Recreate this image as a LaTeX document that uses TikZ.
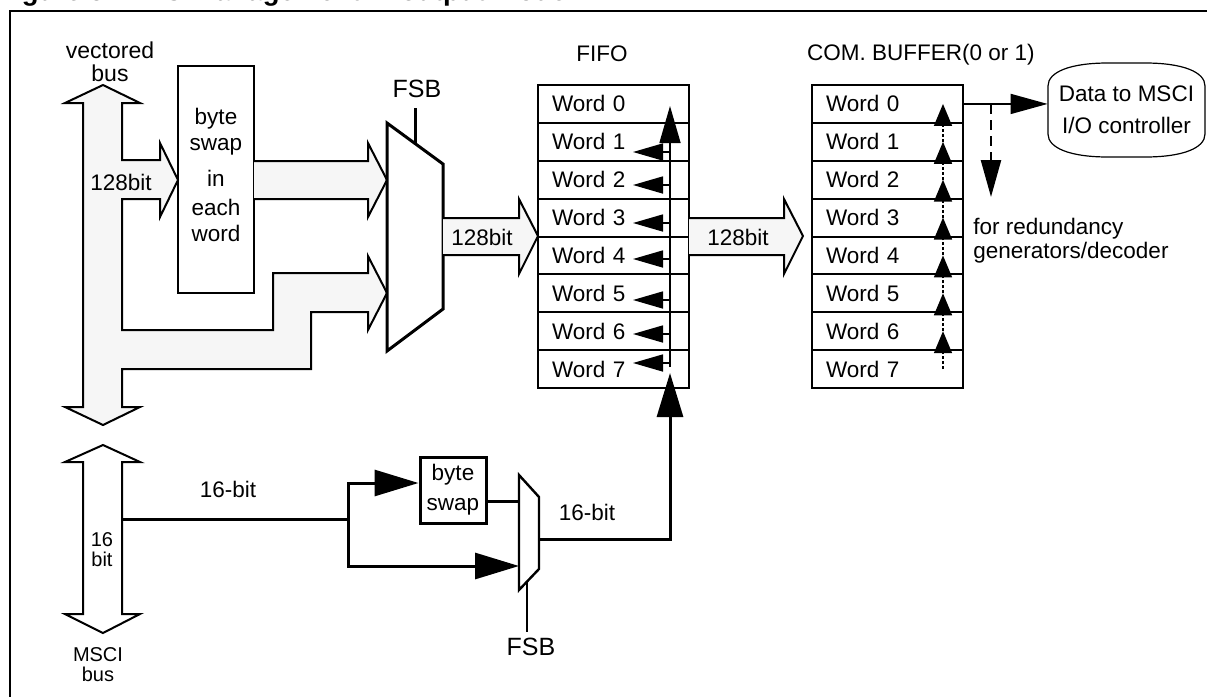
\documentclass[tikz,border=0pt]{standalone}
\usepackage{fontspec}
\setmainfont{Liberation Sans}
\usetikzlibrary{arrows.meta}

\newcommand\diafont{\fontsize{11.25}{13}\selectfont}
\newcommand\fsbfont{\fontsize{12.5}{14}\selectfont}
\newcommand\busfont{\fontsize{10}{10}\selectfont}

\tikzstyle{wordcell} = [draw, line width=1pt, minimum width=75.5pt, minimum height=18.94pt, inner xsep=7pt, inner ysep=0pt, text width=61.5pt, align=left, font=\diafont]
\tikzstyle{fat} = [draw, line width=1pt, fill=gray!7, line join=miter]
\tikzstyle{lbl} = [inner sep=0pt, font=\diafont]
\tikzstyle{thickline} = [line width=1.5pt]
\tikzstyle{bigtip} = [-{Triangle[length=22pt,width=13pt]}]
\tikzstyle{comtip} = [-{Triangle[length=11pt,width=9pt]}]

\begin{document}
\begin{tikzpicture}[x=0.5pt,y=-0.5pt]
\useasboundingbox (0,0) rectangle (1207,697);
\clip (0,0) rectangle (1207,697);
% title, cut by the top of the page
\node[anchor=base west, inner sep=0pt, font=\fontsize{13.75}{15}\selectfont\bfseries] (title) at (-3,0) {Figure 5. FIFO Management in output mode};
\draw[line width=1pt] (10,720) -- (10,11) -- (1230,11);

% vectored bus with its branches
\draw[fat] (103,85) -- (140,103) -- (122,103) -- (122,160) -- (160,160) -- (160,143) -- (178,180) -- (160,217) -- (160,199) -- (122,199) -- (122,330) -- (273,330) -- (273,273) -- (368,273) -- (368,256) -- (387,293) -- (368,330) -- (368,312) -- (311,312) -- (311,369) -- (122,369) -- (122,407) -- (140,407) -- (103,425) -- (65,407) -- (83,407) -- (83,103) -- (65,103) -- cycle;
\node[lbl, font=\fontsize{11.5}{11.5}\selectfont, align=center] (vbus) at (110,62) {vectored\\bus};
\node[lbl] (w128v) at (121,182) {128bit};

\node[draw, line width=1pt, minimum width=38pt, minimum height=113.5pt, align=center, text depth=5pt, font=\diafont] (swap) at (216,179.5) {byte\\swap\\[5pt]in\\[1.5pt]each\\word};
\draw[fat] (254,161) -- (368,161) -- (368,143) -- (387,180) -- (368,217) -- (368,199) -- (254,199);

% multiplexer FSB
\draw[line width=1.5pt, fill=white, line join=miter] (387,123) -- (443,164) -- (443,309) -- (387,351) -- cycle;
\draw[line width=1.5pt] (415,108) -- (415,144);
\node[lbl, font=\fsbfont] (fsbtop) at (417,89) {FSB};
\draw[fat] (443,218) -- (519,218) -- (519,199) -- (538,236) -- (519,274) -- (519,255) -- (443,255);
\node[lbl] (w128a) at (482,237) {128bit};

% FIFO
\node[lbl] (fifolbl) at (602,54) {FIFO};
\foreach \i in {0,...,7}
  \node[wordcell] (fifo\i) at (613.5,{103.94+37.875*\i}) {Word \i};
\draw[line width=0.8pt, -{Triangle[length=18.5pt,width=10.5pt]}] (670,367) -- (670,106);
\foreach \y in {152,185,223,259,300,334,363}
  \draw[line width=0.8pt, -{Triangle[length=15pt,width=8.5pt]}] (670,\y) -- (633,\y);

\draw[fat] (689,218) -- (784,218) -- (784,199) -- (803,236) -- (784,274) -- (784,255) -- (689,255);
\node[lbl] (w128b) at (738,237) {128bit};

% COM buffer
\node[lbl] (comlbl) at (921,55) {COM. BUFFER(0 or 1)};
\foreach \i in {0,...,7}
  \node[wordcell] (com\i) at (887.5,{103.94+37.875*\i}) {Word \i};
\foreach \i in {0,...,6}
  \draw[line width=0.8pt, dash pattern=on 1.5pt off 1pt, comtip] (943,{103.94+37.875*(\i+1)}) -- (943,{103.94+37.875*\i});

\node[minimum width=78.5pt, minimum height=47pt, align=center, font=\fontsize{11.25}{16}\selectfont] (data) at (1126.5,110) {Data to MSCI\\I/O controller};
\draw[line width=0.6pt] (1048,86) .. controls (1048,72) and (1070,63) .. (1108,63) -- (1145,63) .. controls (1183,63) and (1205,72) .. (1205,86) -- (1205,134) .. controls (1205,148) and (1183,157) .. (1145,157) -- (1108,157) .. controls (1070,157) and (1048,148) .. (1048,134) -- cycle;
\draw[line width=0.8pt, -{Triangle[length=18.5pt,width=10pt]}] (com0.east) -- (com0.east -| data.west);
\coordinate (tap) at (991,104);
\draw[line width=1.2pt, dash pattern=on 5pt off 3pt, -{Triangle[length=18.5pt,width=10pt]}] (tap) -- (991,197);
\node[lbl, anchor=north west, align=left, font=\fontsize{11.25}{12}\selectfont] (redun) at (973,218) {for redundancy\\generators/decoder};

% MSCI bus
\draw[line width=1pt, fill=white, line join=miter] (103,445) -- (140,462) -- (122,462) -- (122,614) -- (140,614) -- (103,633) -- (65,614) -- (83,614) -- (83,462) -- (65,462) -- cycle;
\node[lbl, font=\busfont, align=center] (w16) at (102,550) {16\\bit};
\node[lbl, font=\busfont, align=center] (msci) at (98,665) {MSCI\\bus};

\coordinate (split) at (348,519);
\draw[thickline] (122,519) -- (split);
\node[lbl] (w16a) at (228,489) {16-bit};
\node[draw, line width=1.5pt, minimum width=33pt, minimum height=33pt, inner sep=0pt, align=center, font=\fontsize{11.25}{15}\selectfont] (swap16) at (453,490) {byte\\swap};
\draw[thickline, bigtip] (split) |- (swap16.west |- 0,483);
\draw[thickline, bigtip] (split) |- (519,566);
\draw[thickline] (swap16.east |- 0,501) -- (519,501);
\draw[line width=1.2pt, fill=white, line join=miter] (519,475) -- (539,497) -- (539,569) -- (519,590) -- cycle;
\draw[line width=0.6pt] (527,582) -- (527,632);
\node[lbl, font=\fsbfont] (fsbbot) at (531,647) {FSB};
\draw[thickline, bigtip] (539,539) -| (670,373);
\node[lbl] (w16b) at (587,512) {16-bit};
\end{tikzpicture}
\end{document}
